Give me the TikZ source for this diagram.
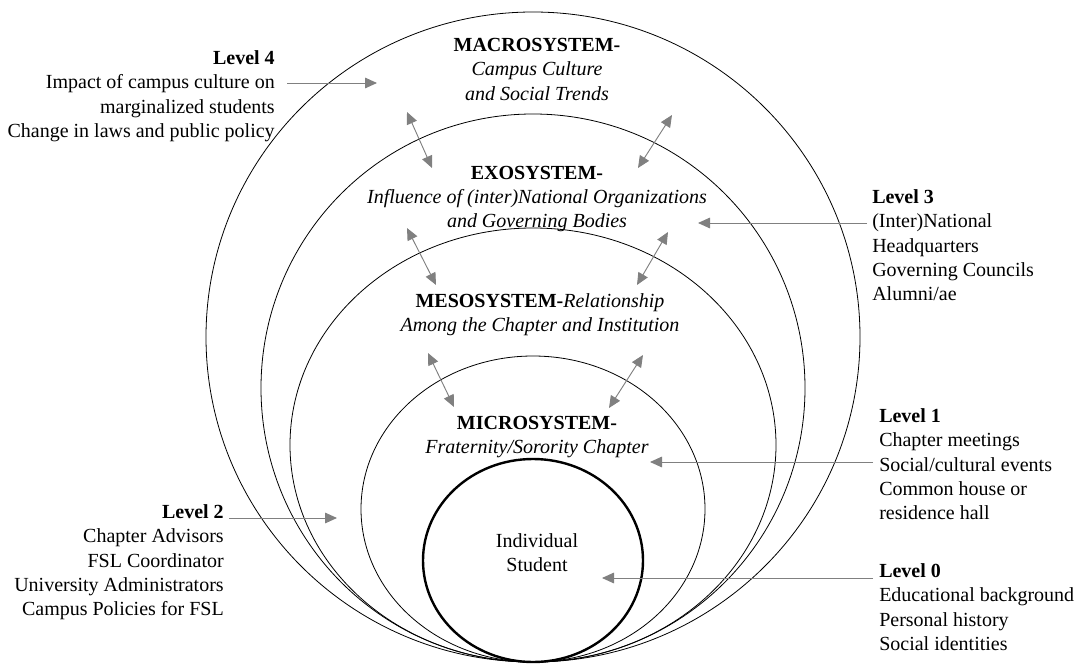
\documentclass[tikz,border=0pt]{standalone}
\usepackage{fontspec}
\setmainfont{Liberation Serif}
\usetikzlibrary{arrows.meta,shapes.geometric}

\begin{document}
\begin{tikzpicture}[
    x=0.75pt, y=-0.75pt,
    sys/.style={ellipse, draw=black, line width=0.6pt, inner sep=0pt},
    txt/.style={font=\fontsize{15}{18.2}\selectfont, inner sep=0pt},
    pointer/.style={draw=gray, line width=0.7pt, -{Triangle[length=9pt, width=8pt]}, color=gray},
    link/.style={draw=gray, line width=0.7pt, {Triangle[length=9pt, width=8pt]}-{Triangle[length=9pt, width=8pt]}, color=gray}
]
\useasboundingbox (0,0) rectangle (1075,667);

% Nested systems
\node[sys, minimum width=490.5pt, minimum height=487.5pt] (macro) at (533,337) {};
\node[sys, minimum width=408pt, minimum height=411pt] (exo) at (533,388) {};
\node[sys, minimum width=364.5pt, minimum height=325.5pt] (meso) at (533,445) {};
\node[sys, minimum width=258pt, minimum height=229.5pt] (micro) at (533,509) {};
\node[sys, line width=1.8pt, minimum width=165pt, minimum height=152.25pt] (student) at (533,560.5) {};

% System titles
\node[txt, align=center, anchor=north] (macrot) at (537,38)
    {\textbf{MACROSYSTEM-}\\ \textit{Campus Culture}\\ \textit{and Social Trends}};
\node[txt, align=center, anchor=north] (exot) at (537,165.5)
    {\textbf{EXOSYSTEM-}\\ \textit{Influence of (inter)National Organizations}\\ \textit{and Governing Bodies}};
\node[txt, align=center, anchor=north] (mesot) at (540,293.5)
    {\textbf{MESOSYSTEM-}\textit{Relationship}\\ \textit{Among the Chapter and Institution}};
\node[txt, align=center, anchor=north] (microt) at (537,415.5)
    {\textbf{MICROSYSTEM-}\\ \textit{Fraternity/Sorority Chapter}};
\node[txt, align=center, anchor=north] (studentt) at (537,533.5)
    {Individual\\ Student};

% Levels
\node[txt, align=right, anchor=north east] (lev4) at (275,50.5)
    {\textbf{Level 4}\\ Impact of campus culture on\\ marginalized students\\ Change in laws and public policy};
\node[txt, align=left, anchor=north west] (lev3) at (872,189.5)
    {\textbf{Level 3}\\ (Inter)National\\ Headquarters\\ Governing Councils\\ Alumni/ae};
\node[txt, align=right, anchor=north east] (lev2) at (224,504.5)
    {\textbf{Level 2}\\ Chapter Advisors\\ FSL Coordinator\\ University Administrators\\ Campus Policies for FSL};
\node[txt, align=left, anchor=north west] (lev1) at (879,408.5)
    {\textbf{Level 1}\\ Chapter meetings\\ Social/cultural events\\ Common house or\\ residence hall};
\node[txt, align=left, anchor=north west] (lev0) at (879,563.5)
    {\textbf{Level 0}\\ Educational background\\ Personal history\\ Social identities};

% Level pointers
\coordinate (p4a) at (287,83);  \coordinate (p4b) at (377,83);
\coordinate (p3a) at (867,223); \coordinate (p3b) at (698,223);
\coordinate (p2a) at (229,518); \coordinate (p2b) at (337,518);
\coordinate (p1a) at (873,462); \coordinate (p1b) at (650,462);
\coordinate (p0a) at (873,578); \coordinate (p0b) at (602,578);
\draw[pointer] (p4a) -- (p4b);
\draw[pointer] (p3a) -- (p3b);
\draw[pointer] (p2a) -- (p2b);
\draw[pointer] (p1a) -- (p1b);
\draw[pointer] (p0a) -- (p0b);

% Links between systems
\coordinate (me1) at (407,112); \coordinate (me2) at (432,168);
\coordinate (me3) at (672,115); \coordinate (me4) at (638,168);
\coordinate (em1) at (407,228); \coordinate (em2) at (436,285);
\coordinate (em3) at (668,232); \coordinate (em4) at (637,285);
\coordinate (mm1) at (428,353); \coordinate (mm2) at (454,407);
\coordinate (mm3) at (643,355); \coordinate (mm4) at (609,408);
\draw[link] (me1) -- (me2);
\draw[link] (me3) -- (me4);
\draw[link] (em1) -- (em2);
\draw[link] (em3) -- (em4);
\draw[link] (mm1) -- (mm2);
\draw[link] (mm3) -- (mm4);

\end{tikzpicture}
\end{document}
